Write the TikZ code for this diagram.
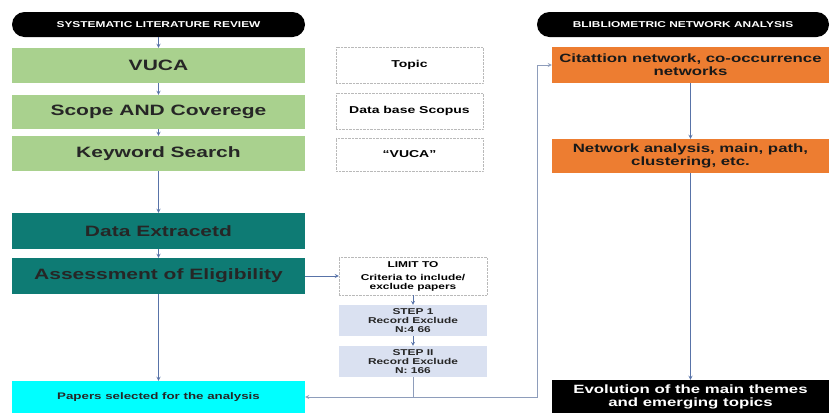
\documentclass[tikz,border=0pt]{standalone}
\usepackage{fontspec}
\setmainfont[FakeStretch=1.4]{Liberation Sans}
\usepackage{tikz}
\usetikzlibrary{shapes.geometric, arrows, positioning}
\definecolor{slrgreen}{HTML}{A9D18E}
\definecolor{slrteal}{HTML}{0E7B74}
\definecolor{selcyan}{HTML}{00FFFF}
\definecolor{bnaorange}{HTML}{ED7D31}
\definecolor{steplav}{HTML}{DAE1F1}
\definecolor{linkblue}{HTML}{5873A8}
\definecolor{linkgray}{HTML}{8E9DBB}
\newcommand{\bigtxt}{\fontsize{15}{17}\selectfont\bfseries}
\newcommand{\midtxt}{\fontsize{12}{13}\selectfont\bfseries}
\newcommand{\smtxt}{\fontsize{8.5}{9}\selectfont\bfseries}
\tikzstyle{header} = [rectangle, rounded corners=12.5pt, minimum width=293pt, minimum height=25pt, align=center, fill=black, text=white, font=\smtxt]
\tikzstyle{green} = [rectangle, minimum width=293pt, minimum height=35pt, align=center, fill=slrgreen, text=black!85, font=\bigtxt]
\tikzstyle{teal} = [rectangle, minimum width=293pt, minimum height=36pt, align=center, fill=slrteal, text=black!85, font=\bigtxt]
\tikzstyle{note} = [rectangle, minimum width=147pt, minimum height=35pt, align=center, draw=gray!55, densely dotted, font=\fontsize{10}{11}\selectfont\bfseries]
\tikzstyle{stepbox} = [rectangle, minimum width=148pt, minimum height=27pt, align=center, fill=steplav, text=black!85, font=\smtxt]
\tikzstyle{orange} = [rectangle, minimum width=277pt, minimum height=35pt, align=center, fill=bnaorange, text=black!90, font=\midtxt]
\tikzstyle{arrow} = [line width=0.8pt, draw=linkblue, ->, >=stealth]
\tikzstyle{link} = [line width=0.8pt, draw=linkgray]

\begin{document}
\begin{tikzpicture}[x=1pt, y=-1pt]

            \useasboundingbox (0,0) rectangle (831,413);

            % Systematic literature review column
            \node (hdrL) [header] at (158.5,24.5) {SYSTEMATIC LITERATURE REVIEW};
            \node (vuca) [green] at (158.5,65.5) {VUCA};
            \node (scope) [green, minimum height=34pt] at (158.5,112) {Scope AND Coverege};
            \node (kwsearch) [green] at (158.5,153.5) {Keyword Search};
            \node (dataext) [teal] at (158.5,231) {Data Extracetd};
            \node (assess) [teal] at (158.5,276) {Assessment of Eligibility};
            \node (papers) [rectangle, minimum width=293pt, minimum height=32pt, fill=selcyan, text=black!85, font=\fontsize{9.5}{11}\selectfont\bfseries] at (158.5,397) {Papers selected for the analysis};

            % Notes and exclusion steps
            \node (topic) [note, minimum height=36pt] at (409.5,65) {Topic};
            \node (scopus) [note, minimum height=36pt] at (409.5,111) {Data base Scopus};
            \node (vucaq) [note, minimum height=33pt] at (409.5,154.5) {``VUCA''};
            \node (limit) [note, minimum width=148pt, minimum height=38pt, font=\smtxt] at (413,276) {LIMIT TO\\[4pt] Criteria to include/\\ exclude papers};
            \node (step1) [stepbox] at (413,320.5) {STEP 1\\ Record Exclude\\ N:4 66};
            \node (step2) [stepbox] at (413,361.5) {STEP II\\ Record Exclude\\ N: 166};

            % Bibliometric network analysis column
            \node (hdrR) [header, minimum width=292pt] at (683,24.5) {BLIBLIOMETRIC NETWORK ANALYSIS};
            \node (cite) [orange, minimum height=36pt] at (690.5,65) {Citattion network, co-occurrence\\ networks};
            \node (netw) [orange, minimum height=34pt] at (690.5,156) {Network analysis, main, path,\\ clustering, etc.};
            \node (evol) [rectangle, minimum width=277pt, minimum height=33pt, align=center, fill=black, text=white, font=\midtxt] at (690.5,396.5) {Evolution of the main themes\\ and emerging topics};

            \coordinate (corner) at (537,397);
            \coordinate (split) at (413,397);

            % Draw edges
            \draw [arrow] (hdrL) -- (vuca);
            \draw [arrow] (vuca) -- (scope);
            \draw [arrow] (scope) -- (kwsearch);
            \draw [arrow] (kwsearch) -- (dataext);
            \draw [arrow] (dataext) -- (assess);
            \draw [arrow] (assess) -- (papers);
            \draw [arrow] (assess) -- (limit);
            \draw [arrow] (limit) -- (step1);
            \draw [arrow] (step1) -- (step2);
            \draw [link] (step2) -- (split);
            \draw [arrow, draw=linkgray] (split) -- (papers);
            \draw [arrow, draw=linkgray] (split) -- (corner) |- (cite);
            \draw [arrow] (cite) -- (netw);
            \draw [arrow] (netw) -- (evol);
        \end{tikzpicture}
\end{document}
